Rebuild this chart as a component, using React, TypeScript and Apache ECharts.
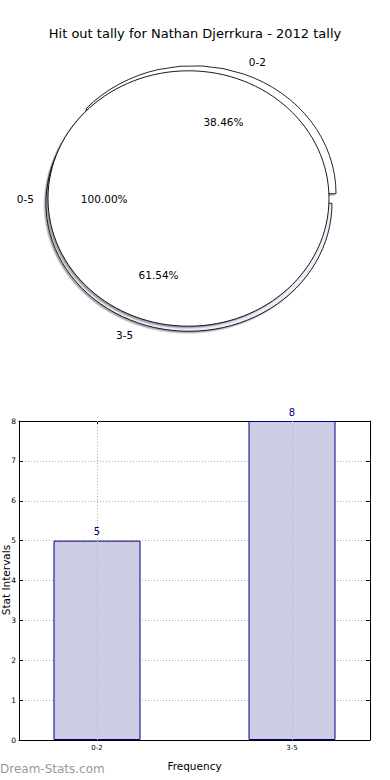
import React, { useEffect, useRef } from "react";
import * as echarts from "echarts";

const TITLE = "Hit out tally for Nathan Djerrkura - 2012 tally";

// Pie data: outer full pie and inner (exploded) slices
const outerLabels = ["0-5"];
const outerValues = [13];
const sliceLabels = ["0-2", "3-5"];
const sliceValues = [5, 8];

// Bar data
const barCategories = ["0-2", "3-5"];
const barValues = [5, 8];
const yAxisName = "Stat Intervals";
const xAxisName = "Frequency";
const WATERMARK = "Dream-Stats.com";

const FONT = '"DejaVu Sans", "Liberation Sans", sans-serif';

type Geom = {
  cx: number;
  cy: number;
  rx: number;
  ry: number;
  explode: number;
  colors: string[];
};

const sliceGeom: Geom = { cx: 191, cy: 198.5, rx: 143, ry: 128, explode: 0.04, colors: ["#ffffff", "#e9eefa"] };
const discGeom: Geom = { cx: 188.5, cy: 198.5, rx: 140.5, ry: 127.7, explode: 0, colors: ["#ffffff"] };

function makeRender(values: number[], labels: string[], g: Geom, part: "shape" | "text") {
  const total = values.reduce((a, b) => a + b, 0);
  return (params: any, api: any) => {
    const i = params.dataIndex;
    const v = api.value(0);
    let before = 0;
    for (let j = 0; j < i; j++) before += values[j];
    const a1 = (before / total) * Math.PI * 2;
    const a2 = ((before + v) / total) * Math.PI * 2;
    const mid = (a1 + a2) / 2;
    const cx = g.cx + g.explode * g.rx * Math.cos(mid);
    const cy = g.cy - g.explode * g.ry * Math.sin(mid);
    if (part === "shape") {
      const style = {
        fill: g.colors[i % g.colors.length],
        stroke: "#000",
        lineWidth: 0.9,
        shadowBlur: 1.5,
        shadowColor: "rgba(0,0,0,0.35)",
        shadowOffsetX: -1.5,
        shadowOffsetY: 1.5,
      };
      if (v / total > 0.9999) {
        return { type: "ellipse", shape: { cx, cy, rx: g.rx, ry: g.ry }, style };
      }
      return {
        type: "group",
        x: cx,
        y: cy,
        scaleY: g.ry / g.rx,
        children: [
          {
            type: "sector",
            shape: { cx: 0, cy: 0, r: g.rx, r0: 0, startAngle: -a2, endAngle: -a1, clockwise: true },
            style,
          },
        ],
      };
    }
    const c = Math.cos(mid);
    const s = Math.sin(mid);
    return {
      type: "group",
      children: [
        {
          type: "text",
          x: cx + 1.1 * g.rx * c,
          y: cy - 1.1 * g.ry * s,
          style: {
            text: labels[i],
            align: c > 0 ? "left" : "right",
            verticalAlign: "middle",
            fill: "#000",
            fontSize: 10.5,
            fontFamily: FONT,
          },
        },
        {
          type: "text",
          x: cx + 0.6 * g.rx * c,
          y: cy - 0.6 * g.ry * s,
          style: {
            text: ((v / total) * 100).toFixed(2) + "%",
            align: "center",
            verticalAlign: "middle",
            fill: "#000",
            fontSize: 10.5,
            fontFamily: FONT,
          },
        },
      ],
    };
  };
}

const gridLineStyle = { type: [1, 2] as any, color: "#b0b0b0", width: 1 };

export default function App() {
  const ref = useRef<HTMLDivElement>(null);
  useEffect(() => {
    if (!ref.current) return;
    const chart = echarts.init(ref.current, undefined, { renderer: "svg" });
    const tickVals = barCategories.map((_, i) => i);
    const option: any = {
      animation: false,
      backgroundColor: "#ffffff",
      textStyle: { fontFamily: FONT },
      title: {
        text: TITLE,
        left: "center",
        top: 22,
        textStyle: { fontSize: 13, fontWeight: "normal", color: "#000", fontFamily: FONT },
      },
      graphic: [
        {
          type: "text",
          left: 0,
          top: 763,
          style: { text: WATERMARK, fill: "#999999", fontSize: 12, fontWeight: "normal", fontFamily: FONT },
        },
        {
          type: "text",
          x: 6,
          y: 580,
          rotation: Math.PI / 2,
          style: {
            text: yAxisName,
            align: "center",
            verticalAlign: "middle",
            fill: "#000",
            fontSize: 10.5,
            fontFamily: FONT,
          },
        },
      ],
      grid: [{ left: 19, right: 20, top: 421, bottom: 40, containLabel: false, outerBoundsMode: "none" }],
      xAxis: [
        {
          type: "value",
          gridIndex: 0,
          min: -0.4,
          max: 1.4,
          position: "bottom",
          axisLine: { show: true, onZero: false, lineStyle: { color: "#000", width: 1 } },
          axisTick: { show: true, inside: true, length: 4, customValues: tickVals, lineStyle: { color: "#000" } },
          axisLabel: {
            customValues: tickVals,
            formatter: (v: number) => barCategories[Math.round(v)] ?? "",
            fontSize: 7,
            color: "#000",
            margin: 4,
            fontFamily: FONT,
          },
          splitLine: { show: false },
          name: xAxisName,
          nameLocation: "middle",
          nameGap: 20,
          nameTextStyle: { fontSize: 10.5, color: "#000", fontFamily: FONT },
        },
        {
          type: "value",
          gridIndex: 0,
          min: -0.4,
          max: 1.4,
          position: "top",
          axisLine: { show: true, onZero: false, lineStyle: { color: "#000", width: 1 } },
          axisTick: { show: true, inside: true, length: 4, customValues: tickVals, lineStyle: { color: "#000" } },
          axisLabel: { show: false },
          splitLine: { show: false },
        },
      ],
      yAxis: [
        {
          type: "value",
          gridIndex: 0,
          min: 0,
          max: 8,
          interval: 1,
          position: "left",
          axisLine: { show: true, onZero: false, lineStyle: { color: "#000", width: 1 } },
          axisTick: { show: true, inside: true, length: 4, lineStyle: { color: "#000" } },
          axisLabel: { fontSize: 7.5, color: "#000", margin: 3, fontFamily: FONT },
          splitLine: { show: true, lineStyle: gridLineStyle },
        },
        {
          type: "value",
          gridIndex: 0,
          min: 0,
          max: 8,
          interval: 1,
          position: "right",
          axisLine: { show: true, onZero: false, lineStyle: { color: "#000", width: 1 } },
          axisTick: { show: true, inside: true, length: 4, lineStyle: { color: "#000" } },
          axisLabel: { show: false },
          splitLine: { show: false },
        },
      ],
      series: [
        {
          type: "custom",
          coordinateSystem: "none",
          z: 1,
          silent: true,
          data: sliceValues,
          renderItem: makeRender(sliceValues, sliceLabels, sliceGeom, "shape"),
        },
        {
          type: "custom",
          coordinateSystem: "none",
          z: 2,
          silent: true,
          data: outerValues,
          renderItem: makeRender(outerValues, outerLabels, discGeom, "shape"),
        },
        {
          type: "custom",
          coordinateSystem: "none",
          z: 5,
          silent: true,
          data: sliceValues,
          renderItem: makeRender(sliceValues, sliceLabels, sliceGeom, "text"),
        },
        {
          type: "custom",
          coordinateSystem: "none",
          z: 5,
          silent: true,
          data: outerValues,
          renderItem: makeRender(outerValues, outerLabels, discGeom, "text"),
        },
        {
          type: "bar",
          xAxisIndex: 0,
          yAxisIndex: 0,
          data: barCategories.map((_, i) => [i, barValues[i]]),
          barWidth: 87,
          itemStyle: { color: "#ccccE5", borderColor: "#000080", borderWidth: 1 },
          label: {
            show: true,
            position: "top",
            distance: 4,
            color: "#00008b",
            fontSize: 10,
            fontFamily: FONT,
          },
          markLine: {
            silent: true,
            symbol: ["none", "none"],
            label: { show: false },
            lineStyle: gridLineStyle,
            data: barCategories.map((_, i) => ({ xAxis: i })),
          },
        },
      ],
    };
    chart.setOption(option);
    return () => chart.dispose();
  }, []);
  return <div ref={ref} style={{ position: "fixed", left: 0, top: 0, width: 390, height: 780 }} />;
}
